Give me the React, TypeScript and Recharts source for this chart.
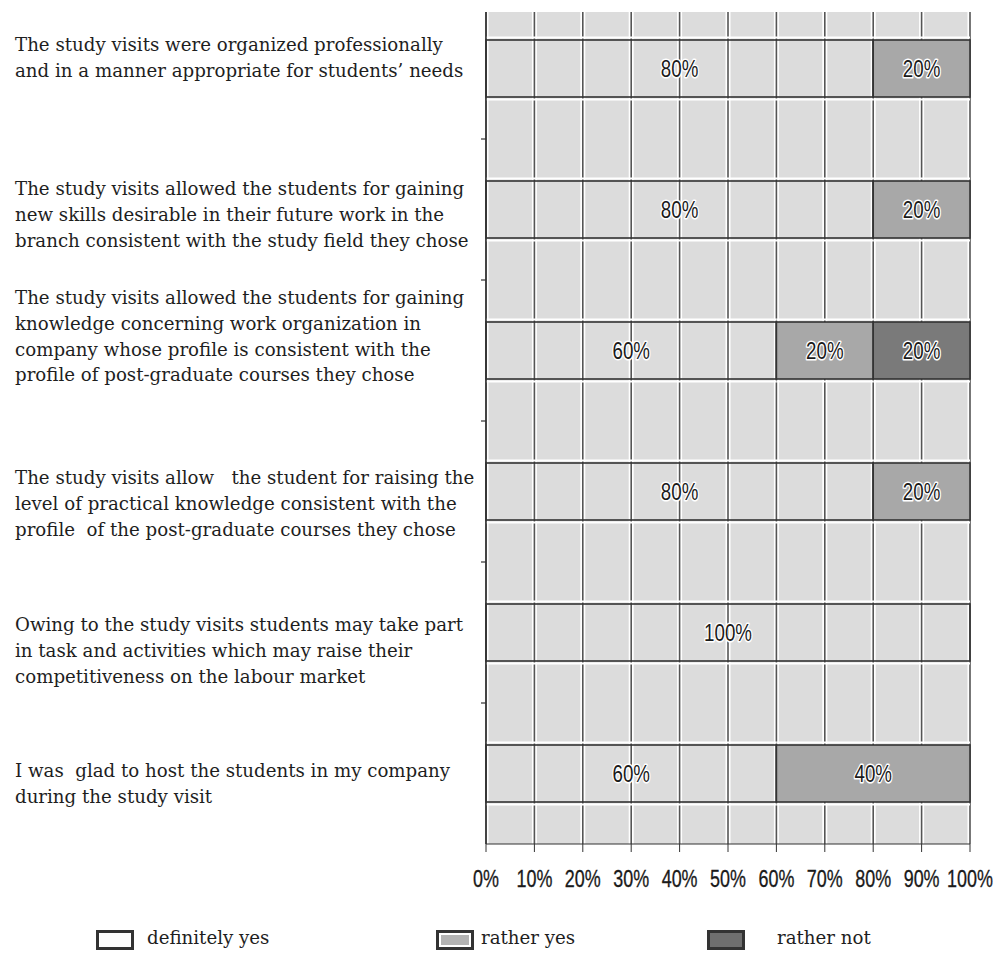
import React from 'react';
import { BarChart, Bar, XAxis, YAxis, CartesianGrid, LabelList } from 'recharts';

const statements: string[][] = [
  ['The study visits were organized professionally', 'and in a manner appropriate for students’ needs'],
  ['The study visits allowed the students for gaining', 'new skills desirable in their future work in the', 'branch consistent with the study field they chose'],
  ['The study visits allowed the students for gaining', 'knowledge concerning work organization in', 'company whose profile is consistent with the', 'profile of post-graduate courses they chose'],
  ['The study visits allow   the student for raising the', 'level of practical knowledge consistent with the', 'profile  of the post-graduate courses they chose'],
  ['Owing to the study visits students may take part', 'in task and activities which may raise their', 'competitiveness on the labour market'],
  ['I was  glad to host the students in my company', 'during the study visit'],
];
const definitelyYes = [80, 80, 60, 80, 100, 60];
const ratherYes = [20, 20, 20, 20, 0, 40];
const ratherNot = [0, 0, 20, 0, 0, 0];
const percentTicks = [0, 10, 20, 30, 40, 50, 60, 70, 80, 90, 100];
const seriesNames = ['definitely yes', 'rather yes', 'rather not'];

const data = statements.map((lines, i) => ({
  name: `s${i}`,
  definitelyYes: definitelyYes[i],
  ratherYes: ratherYes[i],
  ratherNot: ratherNot[i],
}));

// layout constants
const CHART_W = 996;
const CHART_H = 900;
const PLOT_LEFT = 486;
const PLOT_H = 846;
const BAND = PLOT_H / statements.length;
const labelOffsets = [-11, 5, -14, 12, 18, 10];
const LINE_H = 25.7;
const SERIF = '"DejaVu Serif", "Liberation Serif", serif';
const SANS = '"Liberation Sans", Arial, sans-serif';
const SQUEEZE = 0.78;

const CategoryTick = (props: any) => {
  const { y, payload, index } = props;
  const i = typeof index === 'number' ? index : payload?.index ?? 0;
  const lines = statements[i] || [];
  const startY = y + labelOffsets[i] - ((lines.length - 1) * LINE_H) / 2;
  return (
    <g>
      <text fontFamily={SERIF} fontSize={18.2} fill="#1e1e1e" style={{ whiteSpace: 'pre' }}>
        {lines.map((l, k) => (
          <tspan key={k} x={15} y={startY + k * LINE_H} dy="0.35em">
            {l}
          </tspan>
        ))}
      </text>
      {i < statements.length - 1 && (
        <line x1={PLOT_LEFT - 5} x2={PLOT_LEFT} y1={y + BAND / 2} y2={y + BAND / 2} stroke="#333" strokeWidth={1.2} />
      )}
    </g>
  );
};

const PercentTick = (props: any) => {
  const { x, y, payload } = props;
  return (
    <text
      transform={`translate(${x},${y + 27}) scale(${SQUEEZE},1)`}
      textAnchor="middle"
      dy="0.35em"
      fontFamily={SANS}
      fontSize={23}
      fill="#1a1a1a"
      stroke="#1a1a1a"
      strokeWidth={0.3}
    >
      {`${payload.value}%`}
    </text>
  );
};

const makeShape = (fill: string) => (props: any) => {
  const { x, y, width, height } = props;
  if (!width || width <= 0) return <g />;
  return (
    <g>
      <line x1={x} x2={x + width} y1={y - 2.5} y2={y - 2.5} stroke="#fff" strokeWidth={2} />
      <line x1={x} x2={x + width} y1={y + height + 2.5} y2={y + height + 2.5} stroke="#fff" strokeWidth={2} />
      <rect x={x} y={y} width={width} height={height} fill={fill} stroke="#333" strokeWidth={1.6} />
    </g>
  );
};

const renderLabel = (props: any) => {
  const { x, y, width, height, value } = props;
  if (!value || value <= 0) return null;
  return (
    <text
      transform={`translate(${x + width / 2},${y + height / 2}) scale(${SQUEEZE},1)`}
      dy="0.35em"
      textAnchor="middle"
      fontFamily={SANS}
      fontSize={24}
      fill="#1a1a1a"
      stroke="#fff"
      strokeWidth={3}
      paintOrder="stroke"
      strokeLinejoin="round"
    >
      {`${value}%`}
    </text>
  );
};

const legendStyles = [
  { background: '#ffffff', border: '3px solid #333', boxShadow: 'none' },
  { background: '#b3b3b3', border: '3px solid #333', boxShadow: 'inset 0 0 0 2px #fff' },
  { background: '#6f6f6f', border: '3px solid #333', boxShadow: 'none' },
];
const legendIconX = [96, 436, 707];
const legendTextX = [147, 481, 777];

export default function App() {
  return (
    <div style={{ position: 'absolute', left: 0, top: 0, width: 996, height: 953, background: '#fff' }}>
      <div style={{ position: 'absolute', left: 0, top: 12, width: 996, height: 900, overflow: 'hidden' }}>
        <div style={{ position: 'absolute', left: 0, top: -14 }}>
          <BarChart
            width={CHART_W}
            height={CHART_H}
            data={data}
            layout="vertical"
            margin={{ top: 0, right: 26, bottom: 4, left: 0 }}
            barCategoryGap={0}
          >
            <CartesianGrid horizontal={false} vertical fill="#dcdcdc" stroke="#ffffff" strokeWidth={5} />
            <CartesianGrid horizontal={false} vertical stroke="#555" strokeWidth={1.6} />
            <XAxis
              type="number"
              domain={[0, 100]}
              ticks={percentTicks}
              interval={0}
              tickSize={8}
              tickMargin={0}
              height={50}
              stroke="#333"
              tick={<PercentTick />}
            />
            <YAxis
              type="category"
              dataKey="name"
              width={PLOT_LEFT}
              tickLine={false}
              axisLine={{ stroke: '#333', strokeWidth: 1.5 }}
              tick={<CategoryTick />}
              interval={0}
            />
            <Bar dataKey="definitelyYes" name={seriesNames[0]} stackId="a" barSize={57} shape={makeShape('transparent')} isAnimationActive={false}>
              <LabelList dataKey="definitelyYes" content={renderLabel} />
            </Bar>
            <Bar dataKey="ratherYes" name={seriesNames[1]} stackId="a" barSize={57} shape={makeShape('#a8a8a8')} isAnimationActive={false}>
              <LabelList dataKey="ratherYes" content={renderLabel} />
            </Bar>
            <Bar dataKey="ratherNot" name={seriesNames[2]} stackId="a" barSize={57} shape={makeShape('#7a7a7a')} isAnimationActive={false}>
              <LabelList dataKey="ratherNot" content={renderLabel} />
            </Bar>
          </BarChart>
        </div>
      </div>
      {seriesNames.map((n, i) => (
        <React.Fragment key={n}>
          <div
            style={{
              position: 'absolute',
              left: legendIconX[i],
              top: 930,
              width: 32,
              height: 14,
              ...legendStyles[i],
            }}
          />
          <div
            style={{
              position: 'absolute',
              left: legendTextX[i],
              top: 927,
              fontFamily: SERIF,
              fontSize: 18.2,
              color: '#1e1e1e',
              lineHeight: '22px',
              whiteSpace: 'pre',
            }}
          >
            {n}
          </div>
        </React.Fragment>
      ))}
    </div>
  );
}
